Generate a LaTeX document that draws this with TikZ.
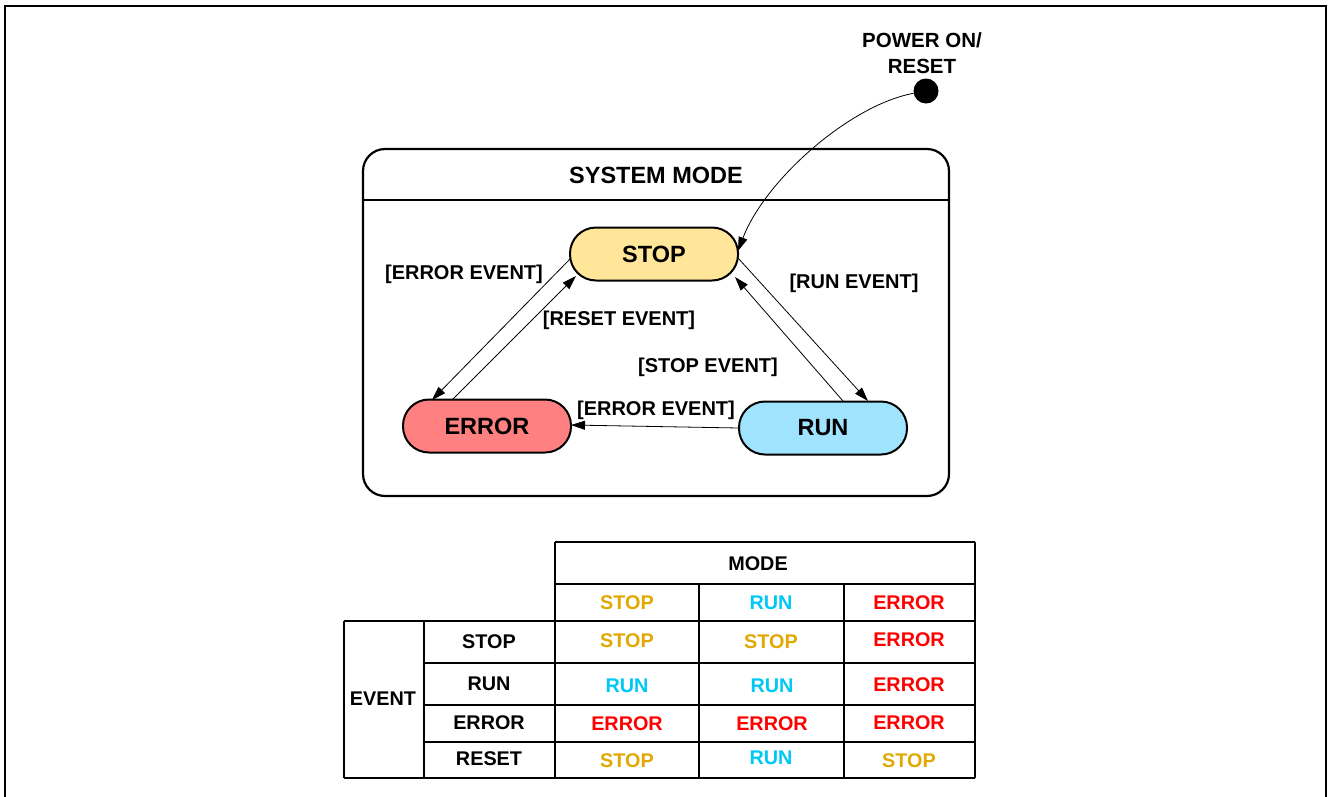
\documentclass[tikz,border=0pt]{standalone}
\usepackage{fontspec}
\setmainfont{Liberation Sans}
\usetikzlibrary{calc,arrows.meta}
\definecolor{stopfill}{HTML}{FFE699}
\definecolor{errfill}{HTML}{FF8080}
\definecolor{runfill}{HTML}{A0E3FF}
\definecolor{cstop}{HTML}{E0A800}
\definecolor{crun}{HTML}{00C8F5}
\definecolor{cerr}{HTML}{FF0000}
\begin{document}
\begin{tikzpicture}[x=1pt,y=-1pt,
  statebox/.style={draw,line width=2pt,rounded corners=26pt,minimum width=168pt,minimum height=53pt,inner sep=0pt,font=\fontsize{23.5}{27}\selectfont\bfseries},
  lbl/.style={font=\fontsize{20}{24}\selectfont\bfseries,inner sep=0pt},
  tr/.style={line width=0.8pt,-{Triangle[length=14pt,width=9pt]}},
  tt/.style={font=\fontsize{19.8}{22}\selectfont\bfseries,inner sep=0pt},
  tline/.style={line width=2pt}]
\useasboundingbox (0,0) rectangle (1328,796);
% outer frame
\draw[line width=2pt] (5,805) -- (5,6) -- (1326,6) -- (1326,805);
% initial
\node[fill=black,circle,minimum size=25pt,inner sep=0pt] (init) at (926,91) {};
\node[align=center,inner sep=0pt,font=\fontsize{20.5}{26}\selectfont\bfseries] (pwr) at (922,53) {POWER ON/\\RESET};
% system mode box
\node[draw,line width=2.2pt,rounded corners=22pt,minimum width=586pt,minimum height=347pt,inner sep=0pt] (sys) at (656,322.5) {};
\draw[line width=2.2pt] ($(sys.north west)+(0,52)$) -- ($(sys.north east)+(0,52)$);
\node[font=\fontsize{23.5}{27}\selectfont\bfseries,inner sep=0pt] (title) at (656,175) {SYSTEM MODE};
% states
\node[statebox,fill=stopfill] (stop) at (654,254) {STOP};
\node[statebox,fill=errfill] (err) at (487,426) {ERROR};
\node[statebox,fill=runfill] (run) at (823,428) {RUN};
% transitions
\draw[tr] (init) .. controls (850,105) and (765,180) .. ($(stop)+(84,-3)$);
\draw[tr] ($(stop)+(-83,4)$) -- ($(err)+(-55,-26)$);
\draw[tr] ($(err)+(-35,-26)$) -- ($(stop)+(-78,22)$);
\draw[tr] ($(stop)+(84,4)$) -- ($(run)+(45,-27)$);
\draw[tr] ($(run)+(20,-27)$) -- ($(stop)+(81,23)$);
\draw[tr] ($(run)+(-84,0)$) -- ($(err)+(84,-1)$);
% labels
\node[lbl] (l1) at (464,274) {[ERROR EVENT]};
\node[lbl] (l2) at (619,320) {[RESET EVENT]};
\node[lbl] (l3) at (854,283) {[RUN EVENT]};
\node[lbl] (l4) at (708,367) {[STOP EVENT]};
\node[lbl] (l5) at (656,410) {[ERROR EVENT]};
% table
\draw[tline] (555,542) -- (975,542);
\draw[tline] (555,584) -- (975,584);
\draw[tline] (344,621) -- (975,621);
\draw[tline] (424,663) -- (975,663);
\draw[tline] (424,705) -- (975,705);
\draw[tline] (424,742) -- (975,742);
\draw[tline] (344,778) -- (975,778);
\draw[tline] (344,621) -- (344,778);
\draw[tline] (424,621) -- (424,778);
\draw[tline] (555,542) -- (555,778);
\draw[tline] (699,584) -- (699,778);
\draw[tline] (844,584) -- (844,778);
\draw[tline] (975,542) -- (975,778);
\node[tt] (mode) at (758,564) {MODE};
\node[tt,text=cstop] (h1) at (627,603) {STOP};
\node[tt,text=crun] (h2) at (771,603) {RUN};
\node[tt,text=cerr] (h3) at (909,603) {ERROR};
\node[tt] (ev) at (383,699) {EVENT};
\node[tt] (r1) at (489,642) {STOP};
\node[tt] (r2) at (489,684) {RUN};
\node[tt] (r3) at (489,723) {ERROR};
\node[tt] (r4) at (489,759) {RESET};
\node[tt,text=cstop] (c11) at (627,641) {STOP};
\node[tt,text=cstop] (c12) at (771,642) {STOP};
\node[tt,text=cerr] (c13) at (909,640) {ERROR};
\node[tt,text=crun] (c21) at (627,686) {RUN};
\node[tt,text=crun] (c22) at (772,686) {RUN};
\node[tt,text=cerr] (c23) at (909,685) {ERROR};
\node[tt,text=cerr] (c31) at (627,724) {ERROR};
\node[tt,text=cerr] (c32) at (772,724) {ERROR};
\node[tt,text=cerr] (c33) at (909,723) {ERROR};
\node[tt,text=cstop] (c41) at (627,761) {STOP};
\node[tt,text=crun] (c42) at (771,758) {RUN};
\node[tt,text=cstop] (c43) at (909,761) {STOP};
\end{tikzpicture}
\end{document}
